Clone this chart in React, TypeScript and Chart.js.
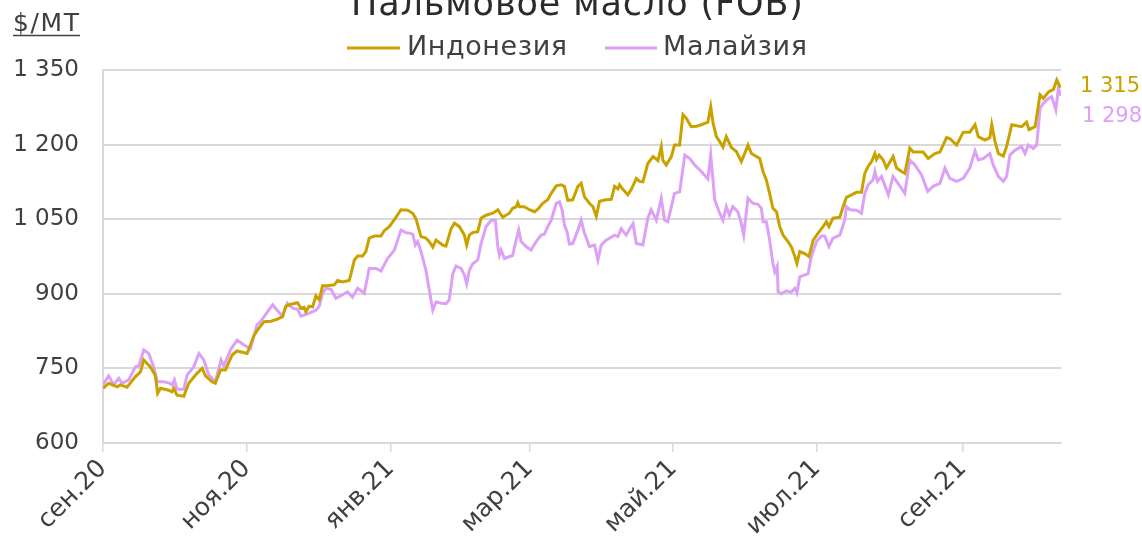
import React, { useEffect, useRef } from "react";
import { Chart, registerables } from "chart.js";
Chart.register(...registerables);

const TITLE = "Пальмовое масло (FOB)";
const UNIT = "$/MT";
const SERIES_NAMES = ["Индонезия", "Малайзия"];
const START_DATE = "2020-09-01";
const TICK_DATES = ["2020-09-01", "2020-11-01", "2021-01-01", "2021-03-01", "2021-05-01", "2021-07-01", "2021-09-01"];
const TICK_LABELS = ["сен.20", "ноя.20", "янв.21", "мар.21", "май.21", "июл.21", "сен.21"];
const Y_MIN = 600;
const Y_MAX = 1350;
const Y_STEP = 150;
const LAST_LABELS = [1315, 1298];

// days since 2020-09-01
const indoDays = [0, 2.4, 6.0, 7.4, 10.2, 13.7, 15.9, 17.3, 20.1, 22.2, 23.2, 24.4, 27.9, 29.3, 30.0, 31.4, 34.3, 36.4, 39.9, 42.1, 43.5, 46.3, 47.7, 49.9, 52.0, 54.8, 56.9, 61.2, 64.0, 65.4, 68.4, 71.3, 74.1, 76.2, 77.6, 79.8, 82.6, 84.0, 85.4, 86.1, 87.5, 89.0, 90.4, 91.8, 93.2, 95.3, 98.2, 99.6, 101.7, 104.5, 105.3, 106.7, 108.1, 110.2, 111.6, 113.0, 115.2, 118.0, 119.4, 121.5, 123.7, 126.5, 129.3, 131.5, 132.9, 135.0, 137.1, 138.5, 140.0, 141.4, 144.2, 145.6, 147.8, 149.2, 151.3, 153.4, 154.4, 155.5, 156.9, 159.1, 160.5, 162.6, 165.5, 167.6, 168.3, 169.7, 172.5, 173.9, 175.4, 176.1, 176.8, 178.9, 181.0, 183.2, 184.6, 186.7, 188.8, 190.3, 192.4, 194.5, 195.9, 197.3, 199.4, 201.6, 203.0, 204.4, 206.5, 208.0, 209.4, 210.8, 213.6, 215.8, 217.2, 218.6, 219.3, 220.7, 222.8, 224.3, 226.4, 227.8, 229.2, 231.3, 233.5, 235.6, 237.0, 237.7, 239.1, 241.3, 242.6, 244.8, 246.2, 247.6, 249.7, 251.9, 254.0, 256.8, 258.0, 259.0, 260.4, 261.8, 263.2, 264.6, 266.8, 268.9, 271.0, 272.4, 273.8, 275.3, 277.4, 278.8, 280.2, 281.6, 283.0, 284.4, 285.9, 287.3, 288.7, 290.8, 292.2, 293.7, 294.6, 295.8, 297.9, 299.7, 301.5, 303.6, 305.7, 307.1, 308.2, 309.9, 312.8, 314.2, 315.6, 317.8, 319.9, 322.0, 323.4, 324.8, 326.3, 327.7, 328.4, 329.5, 331.2, 332.6, 335.4, 336.9, 339.0, 340.4, 342.5, 344.0, 348.2, 350.3, 353.2, 355.3, 358.1, 359.5, 362.4, 365.2, 368.0, 370.2, 371.6, 374.4, 376.5, 377.3, 378.7, 380.1, 382.2, 383.6, 385.8, 390.0, 392.1, 393.1, 395.7, 397.8, 399.2, 401.4, 403.5, 404.9, 406.0, 406.7];
const indoValues = [710, 720, 713, 717, 712, 733, 743, 767, 753, 736, 700, 710, 706, 703, 710, 696, 694, 720, 740, 750, 735, 723, 720, 747, 747, 777, 785, 780, 815, 826, 844, 845, 849, 854, 875, 879, 882, 871, 873, 864, 875, 874, 896, 888, 916, 916, 918, 927, 924, 927, 940, 968, 976, 976, 985, 1012, 1016, 1016, 1027, 1035, 1049, 1069, 1068, 1062, 1050, 1015, 1012, 1005, 994, 1008, 998, 996, 1031, 1042, 1035, 1018, 998, 1018, 1023, 1025, 1052, 1058, 1062, 1069, 1064, 1054, 1062, 1072, 1075, 1083, 1075, 1075, 1069, 1065, 1070, 1082, 1089, 1102, 1117, 1119, 1116, 1088, 1089, 1116, 1122, 1095, 1082, 1075, 1056, 1086, 1089, 1090, 1116, 1111, 1119, 1110, 1099, 1110, 1132, 1126, 1125, 1162, 1176, 1168, 1196, 1168, 1159, 1176, 1199, 1199, 1260, 1253, 1236, 1237, 1240, 1245, 1276, 1243, 1216, 1206, 1195, 1216, 1194, 1186, 1166, 1182, 1199, 1182, 1176, 1172, 1146, 1129, 1102, 1072, 1065, 1035, 1018, 1005, 995, 975, 961, 985, 981, 975, 1008, 1022, 1035, 1045, 1035, 1052, 1054, 1075, 1094, 1099, 1104, 1104, 1142, 1156, 1166, 1182, 1170, 1179, 1169, 1153, 1176, 1153, 1146, 1142, 1193, 1185, 1185, 1172, 1182, 1185, 1214, 1212, 1199, 1225, 1225, 1240, 1216, 1209, 1214, 1240, 1206, 1182, 1177, 1196, 1240, 1236, 1245, 1230, 1236, 1300, 1293, 1306, 1311, 1330, 1319, 1315];

const malayDays = [0, 2.4, 4.5, 6.7, 8.1, 10.9, 13.7, 15.2, 17.3, 19.4, 21.5, 23.0, 25.8, 27.9, 29.3, 30.3, 31.4, 34.3, 35.7, 38.5, 40.7, 42.8, 44.9, 47.7, 50.1, 51.3, 54.1, 56.9, 59.8, 62.6, 65.4, 66.3, 68.4, 72.0, 74.1, 76.2, 78.3, 80.5, 82.6, 84.0, 85.4, 87.5, 90.4, 91.8, 93.2, 94.6, 96.8, 98.9, 101.7, 103.8, 105.9, 108.1, 110.9, 113.0, 115.9, 118.0, 120.8, 123.7, 126.5, 128.6, 130.0, 131.5, 132.6, 133.6, 135.0, 137.1, 138.5, 140.0, 141.4, 143.5, 145.6, 147.0, 148.5, 149.9, 152.0, 153.4, 154.4, 155.5, 156.9, 159.1, 160.5, 162.6, 164.8, 166.6, 167.6, 168.3, 169.0, 170.4, 172.5, 173.9, 175.4, 176.5, 177.5, 179.6, 181.7, 183.9, 186.0, 187.4, 188.8, 190.3, 192.4, 193.8, 194.9, 195.9, 197.0, 198.0, 199.4, 201.6, 203.0, 204.4, 206.5, 208.7, 210.1, 211.5, 213.6, 217.2, 218.6, 220.0, 222.1, 223.5, 225.0, 226.4, 229.2, 231.3, 232.7, 234.9, 237.0, 238.4, 239.8, 242.6, 244.8, 247.0, 249.1, 251.2, 254.0, 256.8, 258.0, 259.7, 261.8, 263.2, 264.6, 265.9, 267.4, 269.5, 271.0, 272.0, 273.8, 275.9, 278.1, 279.5, 280.2, 281.6, 283.0, 284.4, 285.2, 286.2, 286.6, 288.0, 290.1, 292.2, 293.7, 294.6, 295.8, 297.9, 299.3, 300.7, 302.9, 305.0, 306.4, 308.2, 309.9, 312.8, 314.9, 315.6, 317.1, 319.9, 322.0, 323.4, 324.8, 326.9, 327.7, 328.8, 330.5, 333.4, 335.4, 337.5, 340.4, 342.5, 344.7, 347.5, 350.1, 352.4, 355.3, 357.4, 359.5, 362.4, 365.2, 368.0, 370.2, 371.6, 373.7, 376.5, 377.9, 380.1, 382.2, 383.6, 385.0, 387.2, 390.0, 391.4, 392.8, 394.9, 396.4, 397.8, 399.2, 401.4, 402.8, 404.5, 405.6, 406.7];
const malayValues = [717, 735, 717, 730, 720, 727, 753, 755, 787, 780, 753, 723, 723, 721, 717, 727, 708, 708, 737, 753, 780, 767, 737, 723, 767, 755, 787, 807, 797, 790, 838, 841, 854, 878, 866, 855, 881, 871, 869, 855, 857, 861, 867, 875, 901, 911, 909, 891, 898, 904, 893, 911, 901, 951, 951, 946, 971, 988, 1028, 1023, 1022, 1020, 998, 1005, 985, 947, 908, 867, 884, 881, 880, 888, 941, 956, 951, 938, 920, 947, 960, 968, 1001, 1035, 1048, 1048, 995, 978, 988, 971, 975, 977, 1008, 1028, 1005, 995, 988, 1005, 1018, 1020, 1035, 1048, 1082, 1085, 1069, 1038, 1025, 1000, 1001, 1028, 1048, 1022, 995, 998, 968, 998, 1008, 1018, 1015, 1031, 1018, 1030, 1041, 1001, 998, 1052, 1069, 1048, 1092, 1048, 1045, 1102, 1105, 1179, 1172, 1159, 1146, 1131, 1179, 1089, 1062, 1048, 1075, 1058, 1075, 1065, 1041, 1018, 1092, 1082, 1080, 1072, 1045, 1045, 1008, 961, 944, 955, 904, 900, 906, 903, 911, 902, 934, 938, 940, 975, 1005, 1016, 1016, 995, 1012, 1018, 1048, 1075, 1069, 1068, 1062, 1102, 1119, 1129, 1146, 1126, 1136, 1099, 1136, 1122, 1102, 1169, 1159, 1139, 1106, 1116, 1122, 1153, 1132, 1126, 1132, 1153, 1187, 1169, 1172, 1182, 1159, 1136, 1126, 1136, 1179, 1189, 1196, 1182, 1199, 1192, 1199, 1273, 1283, 1293, 1296, 1270, 1313, 1298];

const GOLD = "#c9a200";
const VIOLET = "#dda0f7";
const FONT = '"DejaVu Sans", sans-serif';

const dayOf = (d: string) => (Date.parse(d) - Date.parse(START_DATE)) / 86400000;
const fmt = (v: number) =>
  v >= 1000 ? `${Math.floor(v / 1000)} ${String(v % 1000).padStart(3, "0")}` : String(v);

// draw left-aligned text stretched (via letter spacing) to a target width
function fitText(ctx: CanvasRenderingContext2D, text: string, x: number, y: number, target: number) {
  (ctx as any).letterSpacing = "0px";
  const w = ctx.measureText(text).width;
  const ls = Math.max(0, (target - w) / Math.max(1, text.length - 1));
  (ctx as any).letterSpacing = `${ls}px`;
  ctx.textAlign = "left";
  ctx.fillText(text, x, y);
  (ctx as any).letterSpacing = "0px";
}

export default function App() {
  const ref = useRef<HTMLCanvasElement | null>(null);

  useEffect(() => {
    const canvas = ref.current;
    if (!canvas) return;
    const tickDays = TICK_DATES.map(dayOf);
    const xMax = Math.max(indoDays[indoDays.length - 1], malayDays[malayDays.length - 1]);

    const overlay = {
      id: "overlay",
      afterDraw(chart: any) {
        const ctx = chart.ctx as CanvasRenderingContext2D;
        ctx.save();
        // title (partly cut off at top)
        ctx.fillStyle = "#2b2b2b";
        ctx.font = `35px ${FONT}`;
        ctx.textBaseline = "alphabetic";
        fitText(ctx, TITLE, 351, 15, 452);

        // unit label with underline
        ctx.fillStyle = "#404040";
        ctx.font = `25px ${FONT}`;
        ctx.textBaseline = "alphabetic";
        fitText(ctx, UNIT, 13, 31, 66);
        ctx.strokeStyle = "#404040";
        ctx.lineWidth = 1.5;
        ctx.beginPath();
        ctx.moveTo(13, 35.5);
        ctx.lineTo(80, 35.5);
        ctx.stroke();

        // legend
        const legendItems = [
          { name: SERIES_NAMES[0], color: GOLD, x0: 347, x1: 400, tx: 407, tw: 160 },
          { name: SERIES_NAMES[1], color: VIOLET, x0: 605, x1: 657, tx: 663, tw: 144 },
        ];
        ctx.font = `27px ${FONT}`;
        ctx.textBaseline = "middle";
        legendItems.forEach((it) => {
          ctx.strokeStyle = it.color;
          ctx.lineWidth = 3;
          ctx.beginPath();
          ctx.moveTo(it.x0, 48);
          ctx.lineTo(it.x1, 48);
          ctx.stroke();
          ctx.fillStyle = "#404040";
          fitText(ctx, it.name, it.tx, 48, it.tw);
        });

        // end labels
        const ys = chart.scales.y;
        const gy = ys.getPixelForValue(LAST_LABELS[0]) - 1;
        const vy = Math.max(ys.getPixelForValue(LAST_LABELS[1]), gy + 30);
        ctx.font = `21px ${FONT}`;
        ctx.textBaseline = "middle";
        ctx.textAlign = "right";
        (ctx as any).letterSpacing = "0px";
        ctx.fillStyle = GOLD;
        ctx.fillText(fmt(LAST_LABELS[0]), 1140, gy);
        ctx.fillStyle = VIOLET;
        ctx.fillText(fmt(LAST_LABELS[1]), 1142, vy);
        ctx.restore();
      },
    };

    const chart = new Chart(canvas, {
      type: "line",
      data: {
        datasets: [
          {
            label: SERIES_NAMES[0],
            data: indoDays.map((d, i) => ({ x: d, y: indoValues[i] })),
            borderColor: GOLD,
            borderWidth: 3,
            pointRadius: 0,
            tension: 0,
          },
          {
            label: SERIES_NAMES[1],
            data: malayDays.map((d, i) => ({ x: d, y: malayValues[i] })),
            borderColor: VIOLET,
            borderWidth: 3,
            pointRadius: 0,
            tension: 0,
          },
        ],
      },
      options: {
        animation: false,
        responsive: false,
        maintainAspectRatio: false,
        devicePixelRatio: 1,
        layout: { padding: { top: 70, right: 81, left: 0, bottom: 0 } },
        plugins: { legend: { display: false }, tooltip: { enabled: false }, title: { display: false } },
        scales: {
          x: {
            type: "linear",
            min: 0,
            max: xMax,
            afterBuildTicks: (axis: any) => {
              axis.ticks = tickDays.map((v) => ({ value: v }));
            },
            afterFit: (s: any) => {
              s.height = 96;
            },
            ticks: {
              autoSkip: false,
              maxRotation: 45,
              minRotation: 45,
              padding: 2,
              color: "#404040",
              font: { family: FONT, size: 25 },
              callback: (v: any) => {
                const i = tickDays.indexOf(Number(v));
                return i >= 0 ? TICK_LABELS[i] : "";
              },
            },
            grid: { drawOnChartArea: false, drawTicks: true, tickLength: 9, color: "#d9d9d9", lineWidth: 1.5 },
            border: { display: true, color: "#d9d9d9", width: 2 },
          },
          y: {
            min: Y_MIN,
            max: Y_MAX,
            afterFit: (s: any) => {
              s.width = 103;
            },
            ticks: {
              stepSize: Y_STEP,
              padding: 24,
              color: "#404040",
              font: { family: FONT, size: 23 },
              callback: (v: any) => fmt(Number(v)),
            },
            grid: { color: "#d9d9d9", lineWidth: 2, drawTicks: false },
            border: { display: true, color: "#d9d9d9", width: 2 },
          },
        },
      },
      plugins: [overlay],
    } as any);

    return () => chart.destroy();
  }, []);

  return (
    <div style={{ position: "absolute", left: 0, top: 0, width: 1142, height: 539, background: "#fff" }}>
      <canvas ref={ref} width={1142} height={539} style={{ display: "block" }} />
    </div>
  );
}
